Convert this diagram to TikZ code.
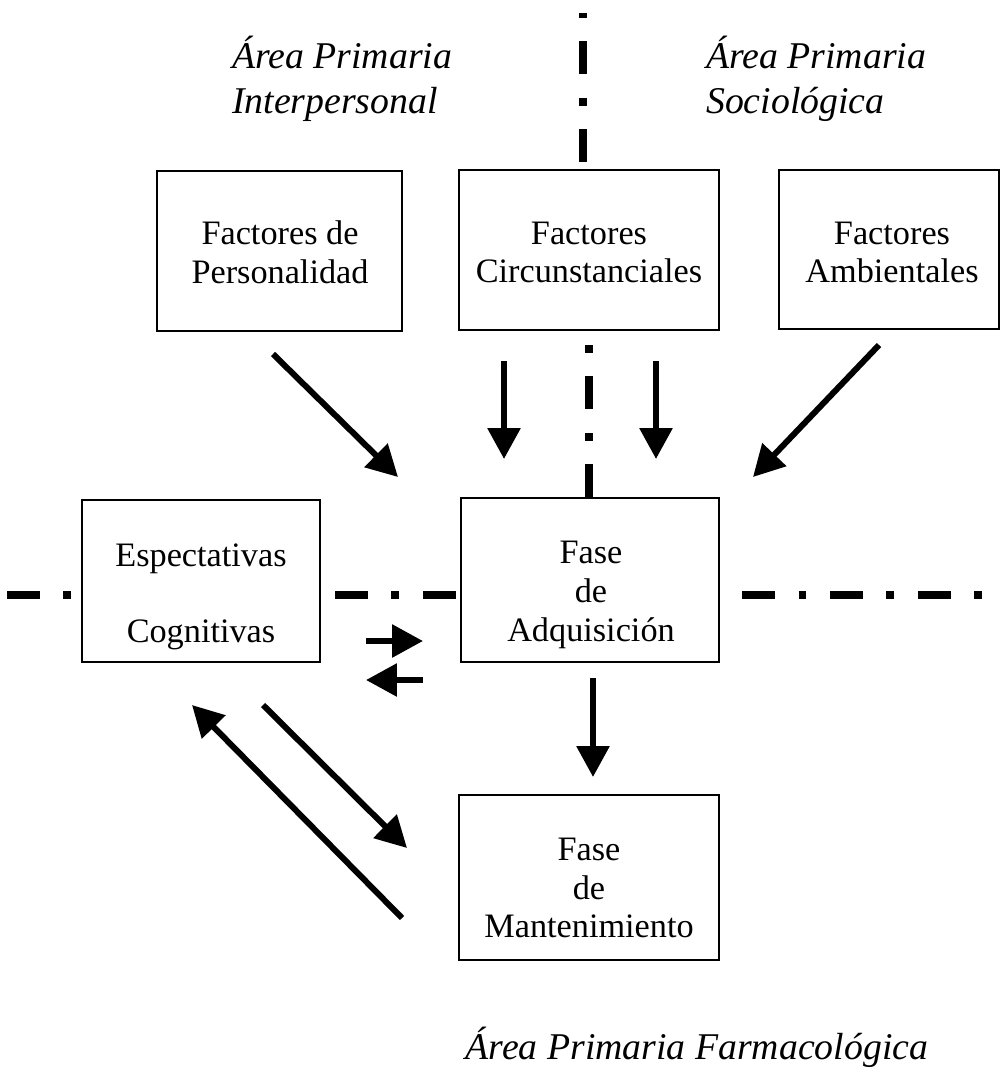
\documentclass[tikz,border=0pt]{standalone}
\usepackage{fontspec}
\setmainfont{Liberation Serif}
\usetikzlibrary{arrows.meta}
\tikzset{
 box/.style={draw, line width=0.04cm, inner sep=0pt},
 lbl/.style={align=center, font=\fontsize{19.5}{22}\selectfont},
 area/.style={align=left, font=\fontsize{21.5}{25.5}\selectfont\itshape},
 arr/.style={line width=0.12cm, -{Triangle[length=0.62cm,width=0.64cm]}},
 sep/.style={line width=0.15cm, line cap=butt, dash pattern=on 0.66cm off 0.47cm on 0.16cm off 0.47cm},
}
\begin{document}
\begin{tikzpicture}[x=0.02cm,y=-0.02cm]
\useasboundingbox (0,0) rectangle (1002,1088);
% boxes
\node[box, minimum width=4.9cm, minimum height=3.2cm] (pers) at (279.5,251) {};
\node[box, minimum width=5.2cm, minimum height=3.2cm] (circ) at (589,250) {};
\node[box, minimum width=4.4cm, minimum height=3.18cm] (amb) at (889,249.5) {};
\node[box, minimum width=4.76cm, minimum height=3.24cm] (esp) at (201,581) {};
\node[box, minimum width=5.16cm, minimum height=3.28cm] (adq) at (590,580) {};
\node[box, minimum width=5.2cm, minimum height=3.3cm] (mant) at (589,877.5) {};
% labels
\node[lbl] (perst) at (280,252.5) {Factores de\\Personalidad};
\node[lbl] (circt) at (589,252.5) {Factores\\Circunstanciales};
\node[lbl] (ambt) at (892,252.5) {Factores\\Ambientales};
\node[lbl] (espt) at (201,597) {Espectativas\\[21.6pt]Cognitivas};
\node[lbl] (adqt) at (591,595) {Fase\\de\\Adquisición};
\node[lbl] (mantt) at (589,888) {Fase\\de\\Mantenimiento};
% area titles
\node[area, anchor=west] (inter) at (226,79) {Área Primaria\\Interpersonal};
\node[area, anchor=west] (socio) at (700,79) {Área Primaria\\Sociológica};
\node[area] (farma) at (697,1047) {Área Primaria Farmacológica};
% separators
\coordinate (vt1) at (583,162); \coordinate (vt2) at (583,13);
\coordinate (vm1) at (589,497); \coordinate (vm2) at (589,340);
\coordinate (hl1) at (7,595);   \coordinate (hl2) at (72,595);
\coordinate (hm1) at (335,595); \coordinate (hm2) at (456,595);
\coordinate (hr1) at (742,595); \coordinate (hr2) at (982,595);
\draw[sep] (vt1) -- (vt2);
\draw[sep] (vm1) -- (vm2);
\draw[sep] (hl1) -- (hl2);
\draw[sep] (hm1) -- (hm2);
\draw[sep] (hr1) -- (hr2);
% arrows
\coordinate (a1s) at (273,354); \coordinate (a1e) at (398,477);
\coordinate (a2s) at (879,345); \coordinate (a2e) at (753,477);
\coordinate (a3s) at (504,361); \coordinate (a3e) at (504,459);
\coordinate (a4s) at (656,361); \coordinate (a4e) at (656,459);
\coordinate (a5s) at (366,641); \coordinate (a5e) at (423,641);
\coordinate (a6s) at (423,680); \coordinate (a6e) at (366,680);
\coordinate (a7s) at (593,678); \coordinate (a7e) at (593,777);
\coordinate (a8s) at (263,705); \coordinate (a8e) at (407,848);
\coordinate (a9s) at (402,918); \coordinate (a9e) at (192,705);
\foreach \a in {1,...,9} \draw[arr] (a\a s) -- (a\a e);
\end{tikzpicture}
\end{document}
